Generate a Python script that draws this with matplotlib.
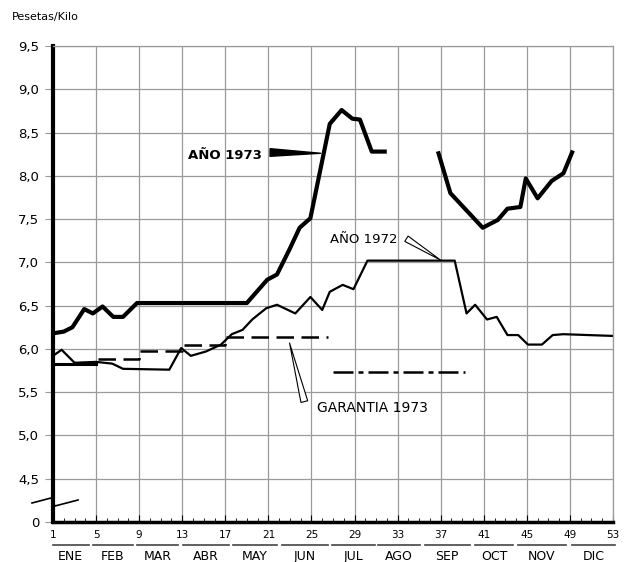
import numpy as np
import matplotlib
matplotlib.use('Agg')
import matplotlib.pyplot as plt
from matplotlib.ticker import MultipleLocator

plt.rcParams['font.family'] = ['DejaVu Sans']

# Año 1973, two pieces (gap in August)
wk73a = [1, 2, 2.8, 3.9, 4.7, 5.6, 6.6, 7.5, 8.8, 19.0, 20.9, 21.8, 23.0, 23.9, 24.9, 26.7, 27.8, 28.8, 29.5, 30.6, 31.8]
val73a = [6.18, 6.2, 6.25, 6.46, 6.41, 6.49, 6.37, 6.37, 6.53, 6.53, 6.8, 6.86, 7.16, 7.4, 7.51, 8.6, 8.76, 8.66, 8.65, 8.28, 8.28]
wk73b = [36.8, 37.9, 40.9, 42.3, 43.2, 44.4, 44.9, 46.0, 47.3, 48.4, 49.2]
val73b = [8.26, 7.80, 7.40, 7.49, 7.62, 7.64, 7.97, 7.74, 7.94, 8.03, 8.27]

# Año 1972
wk72 = [1.0, 1.8, 3.0, 5.0, 6.5, 7.5, 11.8, 12.9, 13.8, 15.2, 16.6, 17.6, 18.6, 19.5, 20.8, 21.8, 23.5, 24.9,
        26.0, 26.7, 27.9, 28.9, 30.2, 38.3, 39.4, 40.2, 41.3, 42.2, 43.2, 44.2, 45.1, 46.4, 47.4, 48.4, 53.0]
val72 = [5.92, 5.99, 5.84, 5.85, 5.83, 5.77, 5.76, 6.01, 5.92, 5.97, 6.05, 6.17, 6.22, 6.34, 6.47, 6.51, 6.41, 6.6,
         6.45, 6.66, 6.74, 6.69, 7.02, 7.02, 6.41, 6.51, 6.34, 6.37, 6.16, 6.16, 6.05, 6.05, 6.16, 6.17, 6.15]

# Garantia 1973 (price steps)
gar_wk = [1, 5, 9, 13, 17, 26.5]
gar_val = [5.83, 5.88, 5.98, 6.04, 6.14, 6.14]
gar2_wk = [27.0, 39.3]
gar2_val = [5.73, 5.73]

months = ['ENE', 'FEB', 'MAR', 'ABR', 'MAY', 'JUN', 'JUL', 'AGO', 'SEP', 'OCT', 'NOV', 'DIC']
month_from = [1, 4.7, 8.8, 13.1, 17.7, 22.3, 26.9, 31.2, 35.5, 40.2, 44.2, 49.2]
month_to = [4.3, 8.4, 12.6, 17.3, 21.8, 26.5, 30.9, 35.1, 39.7, 43.7, 48.6, 53.2]

yticks = [4.0, 4.5, 5.0, 5.5, 6.0, 6.5, 7.0, 7.5, 8.0, 8.5, 9.0, 9.5]
ylabels = ['0', '4,5', '5,0', '5,5', '6,0', '6,5', '7,0', '7,5', '8,0', '8,5', '9,0', '9,5']

fig = plt.figure(figsize=(6.26, 5.62), dpi=100)
ax = fig.add_axes([53/626, 40/562, 560/626, 476/562])
ax.set_xlim(1, 53)
ax.set_ylim(4.0, 9.5)

ax.set_xticks(range(1, 54, 4))
ax.xaxis.set_minor_locator(MultipleLocator(1))
ax.set_yticks(yticks)
ax.set_yticklabels(ylabels)
ax.grid(True, color='#9a9a9a', lw=0.9)
ax.set_axisbelow(True)

for s in ['top', 'right']:
    ax.spines[s].set_color('#9a9a9a')
    ax.spines[s].set_linewidth(0.9)
ax.spines['left'].set_linewidth(3.0)
ax.spines['bottom'].set_linewidth(2.5)

ax.tick_params(axis='y', direction='out', length=6, color='#9a9a9a', labelsize=9.5, pad=4)
ax.tick_params(axis='x', which='major', direction='in', length=5, color='black', labelsize=7.5, pad=6)
ax.tick_params(axis='x', which='minor', direction='in', length=3, color='black')

# lines
ax.plot(wk73a, val73a, color='black', lw=3.0, solid_joinstyle='round')
ax.plot(wk73b, val73b, color='black', lw=3.0, solid_joinstyle='round')
ax.plot(wk72, val72, color='black', lw=1.6, solid_joinstyle='round')
ax.step(gar_wk, gar_val, where='post', color='black', lw=1.8, dashes=(7, 3))
ax.step(gar_wk[:2], gar_val[:1] * 2, where='post', color='black', lw=2.2)
ax.plot(gar2_wk, gar2_val, color='black', lw=1.8, dashes=(8, 2, 2, 2))

# labels and pointers
ax.text(17, 8.24, 'AÑO 1973', fontsize=9.5, ha='center', va='center', fontweight='semibold')
ax.annotate('', xy=(26.1, 8.26), xytext=(20.9, 8.27),
            arrowprops=dict(arrowstyle='wedge,tail_width=0.55', fc='black', ec='black'))
ax.text(29.9, 7.26, 'AÑO 1972', fontsize=9.5, ha='center', va='center')
ax.annotate('', xy=(37.2, 7.01), xytext=(33.6, 7.29),
            arrowprops=dict(arrowstyle='wedge,tail_width=0.45', fc='white', ec='black', lw=0.8))
ax.text(25.5, 5.32, 'GARANTIA 1973', fontsize=10, ha='left', va='center')
ax.annotate('', xy=(22.9, 6.1), xytext=(24.4, 5.36),
            arrowprops=dict(arrowstyle='wedge,tail_width=0.5', fc='white', ec='black', lw=0.8))

# month underlines and names
trans = ax.get_xaxis_transform()
for m, a, b in zip(months, month_from, month_to):
    ax.plot([a, b], [-0.048, -0.048], color='#444444', lw=1.2, transform=trans, clip_on=False)
    ax.text((a + b) / 2, -0.058, m, fontsize=9, ha='center', va='top', transform=trans)

# axis break mark
bx = np.array([32, 51, 55, 78])
by = np.array([503, 498, 506, 500])
ax.plot((bx - 53) / 560, (522 - by) / 476, color='black', lw=1.2, transform=ax.transAxes, clip_on=False)

fig.text(12/626, 1 - 17/562, 'Pesetas/Kilo', fontsize=8, ha='left', va='center')

fig.savefig('out.png', dpi=100)
